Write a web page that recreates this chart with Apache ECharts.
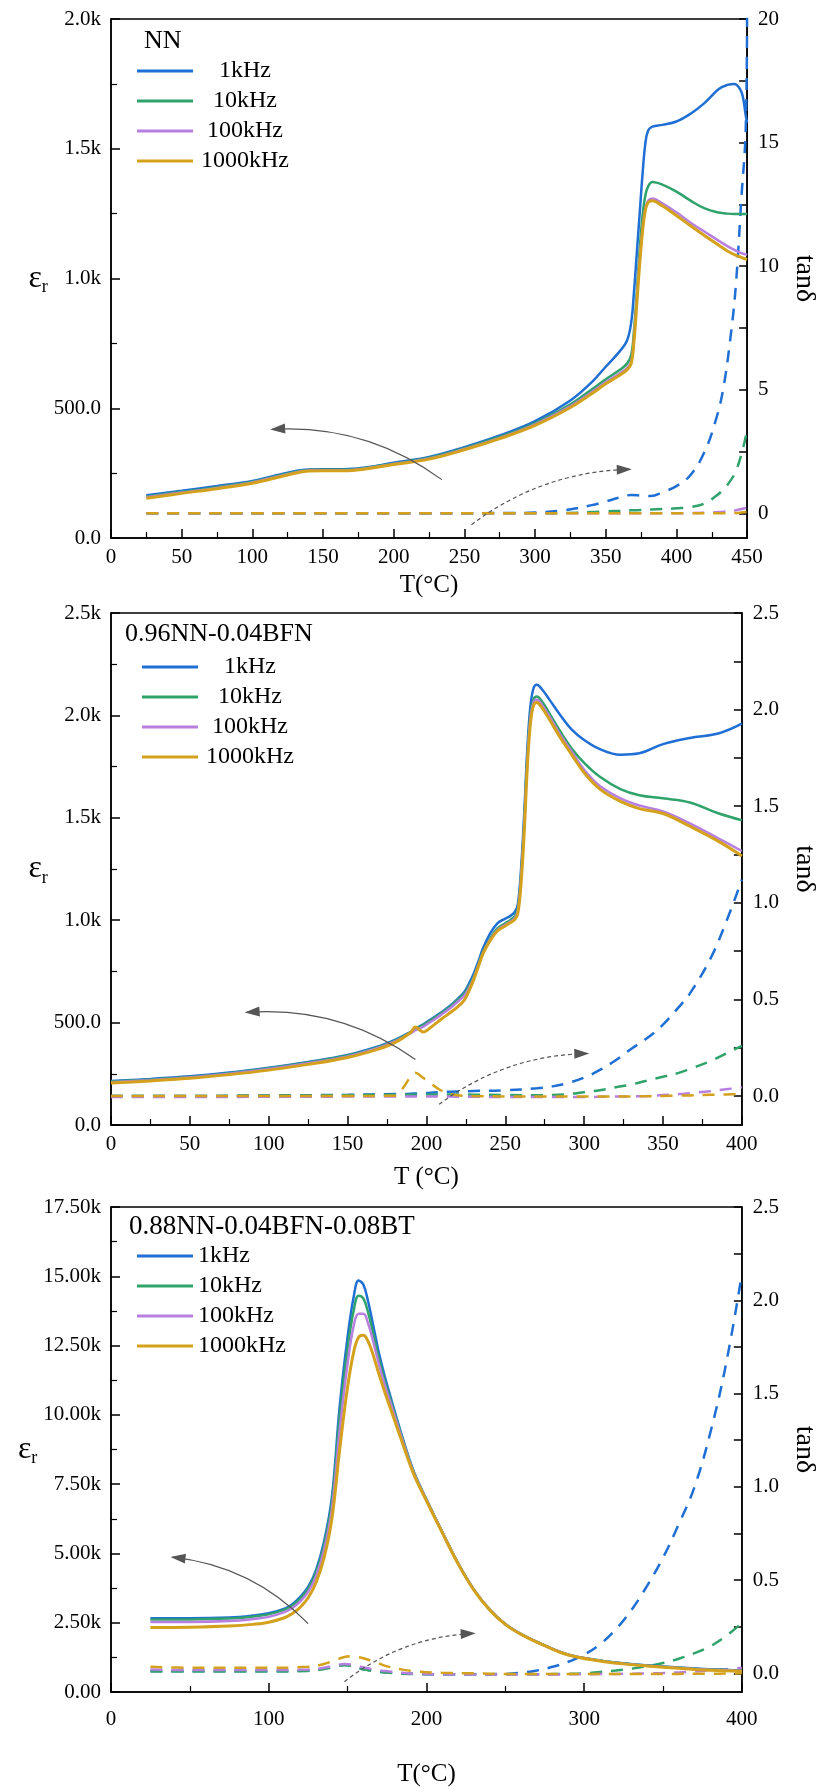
<!DOCTYPE html>
<html>
<head>
<meta charset="utf-8">
<script src="https://cdn.jsdelivr.net/npm/echarts@6/dist/echarts.min.js"></script>
<style>
  html, body { margin: 0; padding: 0; background: #fff; }
  #chart { width: 826px; height: 1789px; }
</style>
</head>
<body>
<div id="chart"></div>
<script>
// ---- data ----
var freqNames = ['1kHz', '10kHz', '100kHz', '1000kHz'];
var panelTitles = ['NN', '0.96NN-0.04BFN', '0.88NN-0.04BFN-0.08BT'];

// NN
var nnT = [25, 50, 75, 100, 125, 140, 150, 165, 180, 200, 225, 250, 275, 300, 325, 340, 350, 360, 365, 368, 370, 372, 374, 376, 378, 380, 383, 390, 400, 410, 420, 430, 436, 441, 445, 447, 449, 450];
var nnEps1k = [165, 182, 200, 220, 252, 264, 265, 265, 272, 290, 312, 350, 395, 450, 530, 600, 660, 720, 760, 830, 950, 1100, 1250, 1400, 1520, 1570, 1585, 1592, 1605, 1635, 1677, 1730, 1746, 1750, 1730, 1700, 1630, 1600];
var nnEps10k = [160, 178, 196, 217, 249, 262, 263, 263, 270, 287, 309, 346, 390, 443, 515, 572, 612, 648, 672, 705, 800, 950, 1110, 1240, 1320, 1355, 1372, 1362, 1335, 1300, 1270, 1254, 1250, 1249, 1249, 1249, 1249, 1249];
var nnEps100k = [157, 175, 193, 214, 246, 260, 261, 261, 268, 285, 306, 343, 386, 438, 508, 562, 600, 635, 655, 680, 770, 920, 1070, 1190, 1270, 1300, 1308, 1290, 1255, 1215, 1180, 1145, 1125, 1110, 1100, 1096, 1093, 1091];
var nnEps1000k = [153, 172, 190, 211, 243, 258, 259, 259, 266, 283, 304, 340, 383, 434, 503, 556, 594, 628, 648, 672, 760, 905, 1055, 1180, 1262, 1293, 1300, 1280, 1243, 1203, 1165, 1128, 1106, 1092, 1083, 1079, 1075, 1073];
var nnTanT = [25, 100, 200, 280, 300, 320, 340, 350, 360, 368, 375, 382, 390, 400, 410, 420, 428, 433, 438, 442, 446, 449, 450];
var nnTan1k = [0, 0, 0, 0.01, 0.03, 0.12, 0.33, 0.48, 0.64, 0.74, 0.72, 0.7, 0.85, 1.1, 1.55, 2.5, 3.8, 5.0, 7.0, 9.2, 12.8, 15.5, 20.5];
var nnTan10k = [0, 0, 0, 0, 0, 0.01, 0.05, 0.08, 0.1, 0.12, 0.13, 0.15, 0.17, 0.2, 0.25, 0.4, 0.7, 0.95, 1.3, 1.7, 2.4, 3.1, 3.5];
var nnTan100k = [0, 0, 0, 0, 0, 0, 0, 0, 0, 0, 0, 0, 0, 0, 0.01, 0.02, 0.04, 0.06, 0.09, 0.12, 0.17, 0.22, 0.25];
var nnTan1000k = [0, 0, 0, 0, 0, 0, 0, 0, 0, 0, 0, 0, 0, 0, 0, 0, 0, 0, 0.005, 0.01, 0.03, 0.05, 0.06];

// 0.96NN-0.04BFN
var bfnT = [0, 25, 50, 75, 100, 125, 150, 170, 180, 190, 193, 196, 198, 200, 205, 210, 215, 220, 224, 227, 230, 233, 236, 240, 245, 250, 253, 256, 258, 260, 262, 264, 266, 268, 270, 273, 278, 285, 292, 300, 310, 323, 335, 350, 367, 385, 400];
var bfnEps1k = [215, 225, 238, 256, 280, 308, 342, 385, 415, 455, 470, 483, 492, 502, 527, 553, 582, 617, 650, 690, 740, 800, 865, 930, 985, 1008, 1020, 1040, 1080, 1250, 1520, 1840, 2050, 2135, 2150, 2130, 2077, 2000, 1932, 1880, 1835, 1808, 1815, 1860, 1890, 1912, 1960];
var bfnEps10k = [212, 222, 235, 253, 277, 305, 339, 382, 412, 452, 467, 480, 489, 499, 523, 549, 578, 612, 642, 678, 725, 785, 848, 905, 960, 985, 1000, 1020, 1060, 1220, 1480, 1800, 2010, 2080, 2092, 2072, 2010, 1920, 1840, 1768, 1700, 1640, 1610, 1595, 1575, 1522, 1488];
var bfnEps100k = [209, 219, 232, 250, 273, 301, 335, 378, 408, 448, 463, 473, 480, 490, 515, 542, 570, 603, 632, 668, 718, 780, 842, 900, 952, 977, 992, 1010, 1048, 1205, 1460, 1780, 1990, 2065, 2077, 2055, 1995, 1905, 1825, 1735, 1655, 1595, 1560, 1531, 1473, 1400, 1338];
var bfnEps1000k = [205, 215, 228, 246, 268, 296, 330, 372, 402, 452, 478, 462, 454, 460, 490, 520, 548, 578, 610, 655, 710, 775, 838, 895, 947, 972, 987, 1003, 1035, 1180, 1430, 1750, 1965, 2050, 2063, 2040, 1980, 1890, 1810, 1720, 1640, 1580, 1545, 1521, 1459, 1386, 1314];
var bfnTanT = [0, 50, 100, 150, 180, 185, 190, 193, 197, 202, 208, 215, 230, 250, 270, 280, 290, 300, 310, 320, 330, 340, 350, 360, 367, 380, 390, 400];
var bfnTan1k = [0, 0, 0.003, 0.006, 0.01, 0.01, 0.012, 0.013, 0.015, 0.017, 0.02, 0.022, 0.026, 0.03, 0.04, 0.05, 0.068, 0.095, 0.135, 0.185, 0.245, 0.3, 0.37, 0.46, 0.53, 0.71, 0.9, 1.12];
var bfnTan10k = [0, 0, 0.002, 0.004, 0.006, 0.006, 0.007, 0.007, 0.008, 0.008, 0.008, 0.008, 0.007, 0.005, 0.004, 0.005, 0.01, 0.02, 0.03, 0.045, 0.06, 0.08, 0.1, 0.12, 0.14, 0.18, 0.22, 0.26];
var bfnTan100k = [-0.005, -0.005, -0.004, -0.003, -0.002, -0.002, -0.002, -0.002, -0.002, -0.002, -0.002, -0.003, -0.004, -0.005, -0.005, -0.005, -0.005, -0.005, -0.004, -0.003, -0.002, 0, 0.005, 0.01, 0.015, 0.025, 0.035, 0.045];
var bfnTan1000k = [0, 0, 0, 0, 0.002, 0.04, 0.1, 0.12, 0.1, 0.07, 0.035, 0.01, 0, -0.002, -0.003, -0.003, -0.003, -0.003, -0.002, -0.002, -0.002, -0.001, 0, 0.002, 0.003, 0.006, 0.008, 0.01];

// 0.88NN-0.04BFN-0.08BT
var btT = [25, 50, 75, 90, 100, 110, 115, 120, 125, 130, 135, 140, 145, 150, 154, 157, 160, 163, 166, 170, 174, 178, 185, 192, 200, 210, 220, 230, 240, 250, 260, 275, 290, 310, 325, 340, 360, 380, 400];
var btEps1k = [2660, 2660, 2690, 2760, 2840, 3010, 3170, 3430, 3790, 4400, 5400, 7000, 10300, 12800, 14300, 14850, 14700, 14100, 13300, 12200, 11300, 10500, 9150, 7950, 6950, 5780, 4650, 3700, 2980, 2450, 2090, 1680, 1350, 1140, 1036, 962, 884, 820, 777];
var btEps10k = [2620, 2620, 2650, 2720, 2800, 2970, 3120, 3370, 3720, 4310, 5280, 6820, 9950, 12400, 13800, 14300, 14200, 13700, 13000, 12000, 11150, 10400, 9100, 7930, 6940, 5775, 4648, 3698, 2978, 2448, 2088, 1678, 1346, 1135, 1030, 955, 876, 810, 768];
var btEps100k = [2530, 2530, 2560, 2630, 2710, 2880, 3030, 3270, 3610, 4180, 5100, 6580, 9450, 11850, 13250, 13650, 13650, 13300, 12700, 11800, 11000, 10300, 9050, 7900, 6930, 5770, 4645, 3695, 2975, 2445, 2085, 1675, 1342, 1130, 1024, 948, 868, 800, 758];
var btEps1000k = [2330, 2340, 2380, 2440, 2520, 2680, 2830, 3060, 3400, 3950, 4820, 6220, 8750, 11000, 12300, 12800, 12870, 12650, 12200, 11450, 10750, 10100, 8950, 7850, 6900, 5750, 4635, 3688, 2968, 2440, 2080, 1670, 1336, 1122, 1015, 938, 856, 786, 745];
var btTanT = [25, 50, 100, 125, 135, 142, 148, 152, 156, 161, 168, 174, 185, 194, 210, 230, 250, 260, 270, 280, 290, 300, 310, 320, 330, 340, 350, 360, 370, 380, 390, 400];
var btTan1k = [0.012, 0.012, 0.012, 0.015, 0.025, 0.038, 0.046, 0.042, 0.032, 0.022, 0.012, 0.006, 0, -0.003, -0.005, -0.005, -0.003, 0.003, 0.015, 0.035, 0.062, 0.1, 0.155, 0.235, 0.34, 0.47, 0.62, 0.8, 1.0, 1.29, 1.66, 2.14];
var btTan10k = [0.01, 0.01, 0.01, 0.013, 0.023, 0.036, 0.044, 0.04, 0.03, 0.02, 0.01, 0.004, -0.002, -0.004, -0.005, -0.005, -0.005, -0.005, -0.005, -0.004, -0.003, 0, 0.007, 0.015, 0.025, 0.038, 0.055, 0.078, 0.108, 0.145, 0.2, 0.27];
var btTan100k = [0.02, 0.018, 0.018, 0.02, 0.03, 0.042, 0.05, 0.047, 0.04, 0.03, 0.02, 0.012, 0.003, -0.003, -0.005, -0.006, -0.006, -0.006, -0.006, -0.006, -0.005, -0.005, -0.004, -0.003, -0.002, 0, 0.002, 0.005, 0.01, 0.015, 0.022, 0.03];
var btTan1000k = [0.035, 0.03, 0.03, 0.035, 0.05, 0.07, 0.088, 0.092, 0.088, 0.078, 0.06, 0.04, 0.02, 0.01, 0.003, 0, -0.003, -0.004, -0.004, -0.004, -0.004, -0.004, -0.004, -0.004, -0.004, -0.004, -0.003, -0.003, -0.002, -0.002, -0.001, 0];

// annotation arrows (data coords: [T, value])
var nnArrowLeft = [[234, 225], [114, 419]];
var nnArrowRight = [[255, -0.46], [367, 1.78]];
var bfnArrowLeft = [[193, 320], [86, 550]];
var bfnArrowRight = [[208, -0.043], [302, 0.22]];
var btArrowLeft = [[125, 2466], [39, 4865]];
var btArrowRight = [[148, -0.045], [230, 0.214]];

// right axis tick / label values
var nnTanLabels = [0, 5, 10, 15, 20];
var nnTanTicks = [0, 2.5, 5, 7.5, 10, 12.5, 15, 17.5, 20];
var tanLabels = [0, 0.5, 1, 1.5, 2, 2.5];
var tanTicks = [0, 0.25, 0.5, 0.75, 1, 1.25, 1.5, 1.75, 2, 2.25, 2.5];

// ---- chart ----
var dom = document.getElementById('chart');
var myChart = echarts.init(dom, null, { renderer: 'canvas' });

var serif = '"Liberation Serif", "Times New Roman", serif';
var colors = ['#1f6fd4', '#2fa36b', '#b77fe0', '#d4a11c'];

function zip(t, v) {
  return t.map(function (x, i) { return [x, v[i]]; });
}

var panels = [
  { t: nnT, eps: [nnEps1k, nnEps10k, nnEps100k, nnEps1000k], tanT: nnTanT, tan: [nnTan1k, nnTan10k, nnTan100k, nnTan1000k], arrowL: nnArrowLeft, arrowR: nnArrowRight },
  { t: bfnT, eps: [bfnEps1k, bfnEps10k, bfnEps100k, bfnEps1000k], tanT: bfnTanT, tan: [bfnTan1k, bfnTan10k, bfnTan100k, bfnTan1000k], arrowL: bfnArrowLeft, arrowR: bfnArrowRight },
  { t: btT, eps: [btEps1k, btEps10k, btEps100k, btEps1000k], tanT: btTanT, tan: [btTan1k, btTan10k, btTan100k, btTan1000k], arrowL: btArrowLeft, arrowR: btArrowRight }
];

var series = [];
panels.forEach(function (p, i) {
  freqNames.forEach(function (name, k) {
    series.push({
      name: name + ' tanδ',
      type: 'line',
      xAxisIndex: i,
      yAxisIndex: 2 * i + 1,
      data: zip(p.tanT, p.tan[k]),
      symbol: 'none',
      smooth: 0.4,
      lineStyle: { width: 2.5, color: colors[k], type: [12, 9] },
      itemStyle: { color: colors[k] },
      z: 2
    });
  });
  freqNames.forEach(function (name, k) {
    series.push({
      name: name,
      type: 'line',
      xAxisIndex: i,
      yAxisIndex: 2 * i,
      data: zip(p.t, p.eps[k]),
      symbol: 'none',
      smooth: 0.4,
      lineStyle: { width: k === 3 ? 3 : 2.5, color: colors[k] },
      itemStyle: { color: colors[k] },
      z: 3
    });
  });
});

var axisLine = { show: true, onZero: false, lineStyle: { color: '#000', width: 1.5 } };
var labelStyle = { fontFamily: serif, fontSize: 21, color: '#000' };

function xAx(i, max, interval, name, margin, gap) {
  return {
    type: 'value', gridIndex: i, min: 0, max: max, interval: interval,
    name: name, nameLocation: 'middle', nameGap: gap,
    nameTextStyle: { fontFamily: serif, fontSize: 25, color: '#000' },
    axisLine: axisLine,
    axisTick: { inside: true, length: 9, lineStyle: { color: '#000', width: 1.5 } },
    minorTick: { show: true, splitNumber: 2, length: 6, lineStyle: { color: '#000', width: 1.2 } },
    splitLine: { show: false },
    axisLabel: Object.assign({ margin: margin }, labelStyle)
  };
}

function leftAx(i, max, interval, fmt) {
  return {
    type: 'value', gridIndex: i, position: 'left', min: 0, max: max, interval: interval,
    name: '{e|ε}{r|r}', nameLocation: 'middle', nameRotate: 0, nameGap: 57,
    nameTextStyle: { rich: {
      e: { fontFamily: serif, fontSize: 32, lineHeight: 36, color: '#000' },
      r: { fontFamily: serif, fontSize: 18, lineHeight: 36, verticalAlign: 'bottom', color: '#000' }
    } },
    axisLine: axisLine,
    axisTick: { inside: true, length: 9, lineStyle: { color: '#000', width: 1.5 } },
    minorTick: { show: true, splitNumber: 2, length: 6, lineStyle: { color: '#000', width: 1.2 } },
    splitLine: { show: false },
    axisLabel: Object.assign({ margin: 10, formatter: fmt }, labelStyle)
  };
}

function rightAx(i, min, max, labels, ticks, fmt, gap) {
  return {
    type: 'value', gridIndex: i, position: 'right', min: min, max: max,
    name: 'tanδ', nameLocation: 'middle', nameRotate: -90, nameGap: gap,
    nameTextStyle: { fontFamily: serif, fontSize: 28, color: '#000' },
    axisLine: axisLine,
    axisTick: { inside: true, length: 8, customValues: ticks, lineStyle: { color: '#000', width: 1.5 } },
    splitLine: { show: false },
    axisLabel: Object.assign({ margin: 11, customValues: labels, formatter: fmt }, labelStyle)
  };
}

function kFmt1(v) { return v === 0 ? '0.0' : v < 1000 ? v.toFixed(1) : (v / 1000).toFixed(1) + 'k'; }
function kFmt2(v) { return v === 0 ? '0.00' : (v / 1000).toFixed(2) + 'k'; }
function intFmt(v) { return String(v); }
function oneFmt(v) { return v.toFixed(1); }

var gridBase = { show: true, borderColor: '#000', borderWidth: 1.5, left: 111, right: 73 };

function legendAt(top, left, centered) {
  return {
    top: top, left: left, orient: 'vertical', padding: 0,
    icon: 'rect', itemWidth: 56, itemHeight: 3, itemGap: 6,
    selectedMode: false,
    data: freqNames,
    formatter: function (n) { return '{c|' + n + '}'; },
    textStyle: {
      fontFamily: serif, fontSize: 24, color: '#000',
      rich: { c: centered
        ? { fontFamily: serif, fontSize: 24, lineHeight: 24, color: '#000', width: 94, align: 'center' }
        : { fontFamily: serif, fontSize: 24, lineHeight: 24, color: '#000' } }
    }
  };
}

var titleStyle = { fontFamily: serif, fontSize: 26, fontWeight: 'normal', color: '#000' };

var option = {
  animation: false,
  backgroundColor: '#fff',
  title: [
    { text: panelTitles[0], left: 144, top: 28, padding: 0, textStyle: titleStyle },
    { text: panelTitles[1], left: 125, top: 621, padding: 0, textStyle: titleStyle },
    { text: panelTitles[2], left: 129, top: 1213, padding: 0, textStyle: Object.assign({}, titleStyle, { fontSize: 27 }) }
  ],
  legend: [
    legendAt(59, 137, true),
    legendAt(655, 142, true),
    legendAt(1244, 137, false)
  ],
  grid: [
    Object.assign({ top: 19, height: 519 }, gridBase),
    Object.assign({ top: 613, height: 512 }, gridBase),
    Object.assign({ top: 1207, height: 485 }, gridBase)
  ],
  xAxis: [
    xAx(0, 450, 50, 'T(°C)', 9, 35),
    xAx(1, 400, 50, 'T (°C)', 9, 40),
    xAx(2, 400, 100, 'T(°C)', 17, 70)
  ],
  yAxis: [
    leftAx(0, 2000, 500, kFmt1),
    rightAx(0, -1, 20, nnTanLabels, nnTanTicks, intFmt, 22),
    leftAx(1, 2500, 500, kFmt1),
    rightAx(1, -0.15, 2.5, tanLabels, tanTicks, oneFmt, 32),
    leftAx(2, 17500, 2500, kFmt2),
    rightAx(2, -0.1, 2.5, tanLabels, tanTicks, oneFmt, 32)
  ],
  series: series
};

if (option && typeof option === 'object') {
  myChart.setOption(option);
}

// curved annotation arrows, placed through the axes' own scales
function drawArrows() {
  var specs = [];
  panels.forEach(function (p, i) {
    specs.push({ x: i, y: 2 * i, pts: p.arrowL, dashed: false, curve: -0.18 });
    specs.push({ x: i, y: 2 * i + 1, pts: p.arrowR, dashed: true, curve: 0.16 });
  });
  var els = [];
  specs.forEach(function (a) {
    var finder = { xAxisIndex: a.x, yAxisIndex: a.y };
    var p0 = myChart.convertToPixel(finder, a.pts[0]);
    var p1 = myChart.convertToPixel(finder, a.pts[1]);
    var dx = p1[0] - p0[0], dy = p1[1] - p0[1];
    var cx = (p0[0] + p1[0]) / 2 + dy * a.curve;
    var cy = (p0[1] + p1[1]) / 2 - dx * a.curve;
    els.push({
      type: 'bezierCurve', silent: true, z: 10,
      shape: { x1: p0[0], y1: p0[1], x2: p1[0], y2: p1[1], cpx1: cx, cpy1: cy },
      style: { stroke: '#555', lineWidth: 1.2, fill: null, lineDash: a.dashed ? [4, 3] : null }
    });
    var tx = p1[0] - cx, ty = p1[1] - cy;
    var len = Math.sqrt(tx * tx + ty * ty);
    tx /= len; ty /= len;
    var hl = 13, hw = 5;
    var bx = p1[0] - tx * hl, by = p1[1] - ty * hl;
    els.push({
      type: 'polygon', silent: true, z: 11,
      shape: { points: [[p1[0] + tx * 2, p1[1] + ty * 2], [bx - ty * hw, by + tx * hw], [bx + ty * hw, by - tx * hw]] },
      style: { fill: '#555' }
    });
  });
  myChart.setOption({ graphic: els });
}
drawArrows();

window.addEventListener('resize', function () { myChart.resize(); drawArrows(); });
</script>
</body>
</html>
